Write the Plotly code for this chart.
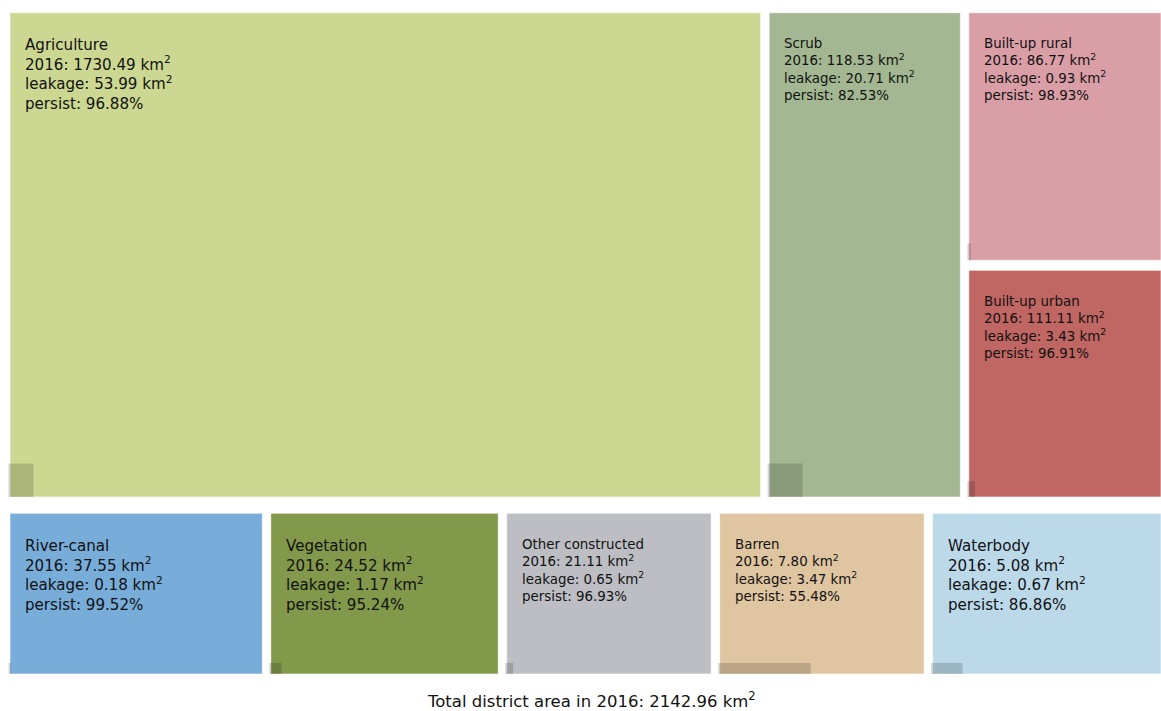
import plotly.graph_objects as go

# ---------------- DATA ----------------
categories = ["Agriculture", "Scrub", "Built-up rural", "Built-up urban",
              "River-canal", "Vegetation", "Other constructed", "Barren", "Waterbody"]
area_2016 = [1730.49, 118.53, 86.77, 111.11, 37.55, 24.52, 21.11, 7.80, 5.08]
leakage = [53.99, 20.71, 0.93, 3.43, 0.18, 1.17, 0.65, 3.47, 0.67]
persist = [96.88, 82.53, 98.93, 96.91, 99.52, 95.24, 96.93, 55.48, 86.86]
total_area = 2142.96

# ---------------- STYLE ----------------
colors = {
    "Agriculture": "#ccd891",
    "Scrub": "#a3b892",
    "Built-up rural": "#da9fa6",
    "Built-up urban": "#c06663",
    "River-canal": "#78acd9",
    "Vegetation": "#82984a",
    "Other constructed": "#bdbec3",
    "Barren": "#dfc5a0",
    "Waterbody": "#bcd9ea",
}
big_font = 15.1
small_font = 13.4
footer_font = 16.5
font_size = {
    "Agriculture": big_font, "Scrub": small_font, "Built-up rural": small_font,
    "Built-up urban": small_font, "River-canal": big_font, "Vegetation": big_font,
    "Other constructed": small_font, "Barren": small_font, "Waterbody": big_font,
}

# ---------------- LAYOUT (grid of panels, in canvas units) ----------------
W, H = 1161, 711
left, right = 10, 1161
gap = 8.5
rows = [(12.7, 497), (513.3, 674)]            # (top, bottom) of each row
# top row: columns with relative widths; last column is split vertically
top_cols = [("Agriculture",), ("Scrub",), ("Built-up rural", "Built-up urban")]
top_col_w = [750, 191, 192]
top_split = [248, 227]                          # relative heights of the stacked column
bottom_cols = ["River-canal", "Vegetation", "Other constructed", "Barren", "Waterbody"]
bottom_col_w = [253, 228, 205, 205, 229]


def split(a, b, weights, g):
    span = (b - a) - g * (len(weights) - 1)
    tot = sum(weights)
    out, cur = [], a
    for w in weights:
        seg = span * w / tot
        out.append((cur, cur + seg))
        cur += seg + g
    return out


boxes = {}
tx = split(left, right, top_col_w, gap)
for col, (x0, x1) in zip(top_cols, tx):
    if len(col) == 1:
        boxes[col[0]] = (x0, rows[0][0], x1, rows[0][1])
    else:
        ys = split(rows[0][0], rows[0][1], top_split, gap + 1.5)
        for name, (y0, y1) in zip(col, ys):
            boxes[name] = (x0, y0, x1, y1)
bx = split(left, right, bottom_col_w, gap)
for name, (x0, x1) in zip(bottom_cols, bx):
    boxes[name] = (x0, rows[1][0], x1, rows[1][1])

# ---------------- FIGURE ----------------
fig = go.Figure()
fig.add_trace(go.Scatter(x=[0, W], y=[0, H], mode="markers",
                         marker=dict(opacity=0), hoverinfo="skip", showlegend=False))

shapes, annotations = [], []
for name, a, lk, p in zip(categories, area_2016, leakage, persist):
    x0, y0, x1, y1 = boxes[name]
    w, h = x1 - x0, y1 - y0
    shapes.append(dict(type="rect", xref="x", yref="y", x0=x0, x1=x1, y0=y0, y1=y1,
                       fillcolor=colors[name],
                       line=dict(color="rgba(255,255,255,0.6)", width=1)))
    # leakage strip: width proportional to non-persisting share
    shapes.append(dict(type="rect", xref="x", yref="y",
                       x0=x0 - 1.5, x1=x0 + (1 - p / 100.0) * w,
                       y0=y1 - 0.069 * h, y1=y1,
                       fillcolor="rgba(0,0,0,0.16)", line=dict(width=0)))
    txt = (f"{name}<br>2016: {a:.2f} km<sup>2</sup><br>"
           f"leakage: {lk:.2f} km<sup>2</sup><br>persist: {p:.2f}%")
    annotations.append(dict(x=x0 + 13, y=y0 + 21.3, xref="x", yref="y",
                            xanchor="left", yanchor="top", align="left",
                            showarrow=False, text=txt,
                            font=dict(family="DejaVu Sans", size=font_size[name], color="#111111")))

annotations.append(dict(x=591, y=700, xref="x", yref="y", xanchor="center", yanchor="middle",
                        showarrow=False,
                        text=f"Total district area in 2016: {total_area:.2f} km<sup>2</sup>",
                        font=dict(family="DejaVu Sans", size=footer_font, color="#111111")))

fig.update_layout(
    width=W, height=H,
    margin=dict(l=0, r=0, t=0, b=0),
    paper_bgcolor="white", plot_bgcolor="white",
    xaxis=dict(range=[0, W], visible=False, fixedrange=True),
    yaxis=dict(range=[H, 0], visible=False, fixedrange=True),
    shapes=shapes, annotations=annotations,
    showlegend=False,
)

fig.write_html("out.html", config={"displayModeBar": False},
               post_script="document.body.style.margin='0';document.body.style.overflow='hidden';")
